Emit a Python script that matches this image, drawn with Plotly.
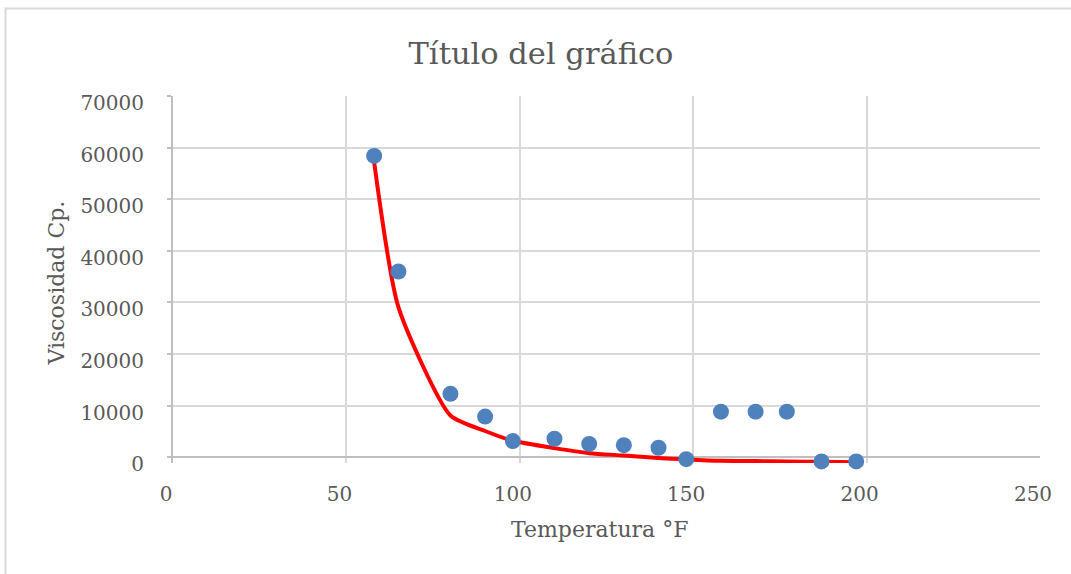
import plotly.graph_objects as go

# Measured viscosity versus temperature
temperatura = [58, 65, 80, 90, 98, 110, 120, 130, 140, 148, 158, 168, 177, 187, 197]
viscosidad = [58400, 36000, 12300, 7900, 3150, 3600, 2600, 2350, 1850, -350,
              8850, 8850, 8850, -800, -800]

# Fitted trend curve at the same temperatures
ajuste = [57200, 29100, 8100, 5100, 3200, 1780, 810, 350, -150, -390,
          -680, -730, -800, -870, -950]

x_ticks = [0, 50, 100, 150, 200, 250]
y_ticks = [0, 10000, 20000, 30000, 40000, 50000, 60000, 70000]

font_family = "DejaVu Serif"
text_color = "#595959"
grid_color = "#d9d9d9"
axis_color = "#bfbfbf"

# A little room below zero so the slightly negative points stay visible.
y_min = -1100

fig = go.Figure()

fig.add_trace(go.Scatter(
    x=temperatura, y=ajuste, mode="lines",
    line=dict(color="#ff0000", width=4, shape="spline", smoothing=0.6),
    cliponaxis=False, showlegend=False,
))

fig.add_trace(go.Scatter(
    x=temperatura, y=viscosidad, mode="markers",
    marker=dict(color="#4f81bd", size=16, line=dict(width=0)),
    cliponaxis=False, showlegend=False,
))

fig.update_layout(
    width=1071, height=574,
    margin=dict(l=173, r=31, t=96, b=111),
    paper_bgcolor="white", plot_bgcolor="white",
    font=dict(family=font_family, color=text_color, size=20),
    title=dict(text="Título del gráfico", x=541 / 1071, xref="container", xanchor="center",
               y=1 - 53 / 574, yref="container", yanchor="middle",
               font=dict(family=font_family, size=30.5, color=text_color)),
    xaxis=dict(
        range=[0, 250], tickvals=x_ticks, ticktext=[str(v) for v in x_ticks],
        showgrid=True, gridcolor=grid_color, gridwidth=2,
        showline=False, ticks="",
        zeroline=False,
        tickfont=dict(size=20),
        ticklabelstandoff=17,
        ticklabelshift=-7,
    ),
    yaxis=dict(
        range=[y_min, 70000], tickvals=y_ticks, ticktext=[str(v) for v in y_ticks],
        showgrid=True, gridcolor=grid_color, gridwidth=2,
        showline=True, linecolor=axis_color, linewidth=2,
        ticks="outside", ticklen=4, tickcolor=axis_color, tickwidth=2,
        zeroline=True, zerolinecolor=axis_color, zerolinewidth=2,
        tickfont=dict(size=20),
        ticklabelstandoff=19,
        ticklabelshift=7,
    ),
    annotations=[
        dict(text="Temperatura °F", xref="paper", yref="paper",
             x=0.4923, y=-0.1814, xanchor="center", yanchor="middle",
             showarrow=False, font=dict(size=22, color=text_color)),
        dict(text="Viscosidad Cp.", xref="paper", yref="paper",
             x=-0.1343, y=0.4905, xanchor="center", yanchor="middle",
             textangle=-90, showarrow=False, font=dict(size=22, color=text_color)),
    ],
    shapes=[
        # outer chart frame
        dict(type="rect", xref="paper", yref="paper",
             x0=-0.1932, y0=-0.6, x1=1.1, y1=1.2386,
             line=dict(color="#d9d9d9", width=2), fillcolor="rgba(0,0,0,0)",
             layer="below"),
        # hide the grid below the zero line, leaving short stubs as tick marks
        dict(type="rect", xref="paper", yref="y",
             x0=0.002, y0=y_min, x1=1.0, y1=-450,
             line=dict(width=0), fillcolor="white", layer="between"),
    ],
)

fig.write_html("out.html")
